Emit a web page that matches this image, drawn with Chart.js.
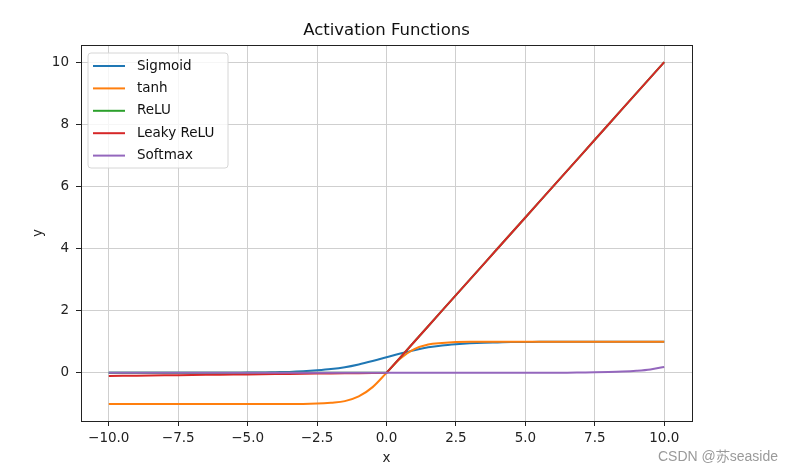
<!DOCTYPE html>
<html>
<head>
<meta charset="utf-8">
<script src="https://cdn.jsdelivr.net/npm/chart.js@4"></script>
<style>
  html, body { margin:0; padding:0; background:#fff; }
  #wrap { position:relative; width:802px; height:475px; }
  #mark { position:absolute; left:658px; top:448px; font:14px "Liberation Sans", Arial, sans-serif; color:#9a9a9a; white-space:nowrap; }
</style>
</head>
<body>
<div id="wrap">
  <canvas id="c" width="802" height="475"></canvas>
  <div id="mark">CSDN @苏seaside</div>
</div>
<script>
// data
const xs = [-10,-9.5,-9,-8.5,-8,-7.5,-7,-6.5,-6,-5.5,-5,-4.5,-4,-3.5,-3,-2.5,-2,-1.5,-1,-0.5,0,
            0.5,1,1.5,2,2.5,3,3.5,4,4.5,5,5.5,6,6.5,7,7.5,8,8.5,9,9.5,10]
const sigmoid = [0,0,0,0,0,0,0,0,0,0,0.01,0.01,0.02,0.03,0.05,0.08,0.12,0.18,0.27,0.38,0.5,
                 0.62,0.73,0.82,0.88,0.92,0.95,0.97,0.98,0.99,0.99,1,1,1,1,1,1,1,1,1,1]
const tanh = [-1,-1,-1,-1,-1,-1,-1,-1,-1,-1,-1,-1,-1,-1,-1,-0.99,-0.96,-0.91,-0.76,-0.46,0,
              0.46,0.76,0.91,0.96,0.99,1,1,1,1,1,1,1,1,1,1,1,1,1,1,1]
const relu = [0,0,0,0,0,0,0,0,0,0,0,0,0,0,0,0,0,0,0,0,0,
              0.5,1,1.5,2,2.5,3,3.5,4,4.5,5,5.5,6,6.5,7,7.5,8,8.5,9,9.5,10]
const leakyRelu = [-0.1,-0.095,-0.09,-0.085,-0.08,-0.075,-0.07,-0.065,-0.06,-0.055,-0.05,-0.045,-0.04,-0.035,-0.03,-0.025,-0.02,-0.015,-0.01,-0.005,0,
                   0.5,1,1.5,2,2.5,3,3.5,4,4.5,5,5.5,6,6.5,7,7.5,8,8.5,9,9.5,10]
const softmax = [0,0,0,0,0,0,0,0,0,0,0,0,0,0,0,0,0,0,0,0,0,
                 0,0,0,0,0,0,0,0,0,0,0.001,0.001,0.003,0.009,0.015,0.025,0.041,0.067,0.11,0.19]

const seriesNames = ['Sigmoid','tanh','ReLU','Leaky ReLU','Softmax']
const seriesData = [sigmoid, tanh, relu, leakyRelu, softmax]
const colors = ['#1f77b4','#ff7f0e','#2ca02c','#d62728','#9467bd']
const smooth = [true, true, false, false, true]

const xTicks = [-10,-7.5,-5,-2.5,0,2.5,5,7.5,10]
const yTicks = [0,2,4,6,8,10]

const FONT = 'DejaVu Sans'
const minus = s => s.replace('-', '\u2212')

// frame, title, legend drawn like matplotlib
const mplPlugin = {
  id: 'mpl',
  afterDatasetsDraw(chart) {
    const {ctx, chartArea: a} = chart
    ctx.save()
    ctx.strokeStyle = '#222'
    ctx.lineWidth = 1
    ctx.strokeRect(Math.round(a.left)+0.5, Math.round(a.top)+0.5, Math.round(a.right-a.left), Math.round(a.bottom-a.top))
    ctx.restore()
  },
  afterDraw(chart) {
    const {ctx, chartArea: a} = chart
    ctx.save()
    // title
    ctx.fillStyle = '#111'
    ctx.font = '16.5px "' + FONT + '"'
    ctx.textAlign = 'center'
    ctx.textBaseline = 'middle'
    ctx.fillText('Activation Functions', (a.left + a.right)/2, 30.5)

    // legend
    const bx = 88, by = 53, bw = 140, bh = 115, r = 3
    ctx.beginPath()
    ctx.moveTo(bx+r, by)
    ctx.arcTo(bx+bw, by, bx+bw, by+bh, r)
    ctx.arcTo(bx+bw, by+bh, bx, by+bh, r)
    ctx.arcTo(bx, by+bh, bx, by, r)
    ctx.arcTo(bx, by, bx+bw, by, r)
    ctx.closePath()
    ctx.fillStyle = 'rgba(255,255,255,0.8)'
    ctx.fill()
    ctx.strokeStyle = '#d6d6d6'
    ctx.lineWidth = 1
    ctx.stroke()

    ctx.font = '13.5px "' + FONT + '"'
    ctx.textAlign = 'left'
    chart.data.datasets.forEach((ds, i) => {
      const y = 66 + i*22.4
      ctx.strokeStyle = ds.borderColor
      ctx.lineWidth = 2
      ctx.beginPath()
      ctx.moveTo(93, y)
      ctx.lineTo(125, y)
      ctx.stroke()
      ctx.fillStyle = '#111'
      ctx.fillText(ds.label, 137, y)
    })
    ctx.restore()
  }
}

new Chart(document.getElementById('c'), {
  type: 'line',
  data: {
    datasets: seriesNames.map((name, i) => ({
      label: name,
      data: xs.map((x, k) => ({x: x, y: seriesData[i][k]})),
      borderColor: colors[i],
      backgroundColor: colors[i],
      borderWidth: 2,
      pointRadius: 0,
      fill: false,
      cubicInterpolationMode: smooth[i] ? 'monotone' : 'default',
      tension: 0,
      order: seriesNames.length - i
    }))
  },
  options: {
    responsive: false,
    animation: false,
    layout: { padding: { top: 45, right: 110, left: 0, bottom: 0 } },
    plugins: { legend: { display: false }, title: { display: false }, tooltip: { enabled: false } },
    scales: {
      x: {
        type: 'linear', min: -11, max: 11,
        afterBuildTicks: s => { s.ticks = xTicks.map(v => ({value: v})) },
        afterFit: s => { s.height = 54 },
        grid: { color: '#cfcfcf', lineWidth: 1, tickLength: 5, tickColor: '#222', drawOnChartArea: true },
        border: { display: false },
        ticks: { color: '#222', padding: 4, maxRotation: 0, font: { family: FONT, size: 13.5 },
                 callback: v => minus(Number(v).toFixed(1)) },
        title: { display: true, text: 'x', color: '#222', font: { family: FONT, size: 13.5 }, padding: { top: 0, bottom: 8 } }
      },
      y: {
        type: 'linear', min: -1.55, max: 10.55,
        afterBuildTicks: s => { s.ticks = yTicks.map(v => ({value: v})) },
        afterFit: s => { s.width = 81 },
        grid: { color: '#cfcfcf', lineWidth: 1, tickLength: 5, tickColor: '#222' },
        border: { display: false },
        ticks: { color: '#222', padding: 7, font: { family: FONT, size: 13.5 },
                 callback: v => minus(String(v)) },
        title: { display: true, text: 'y', color: '#222', font: { family: FONT, size: 13.5 }, padding: { top: 30, bottom: 0 } }
      }
    }
  },
  plugins: [mplPlugin]
})
</script>
</body>
</html>
